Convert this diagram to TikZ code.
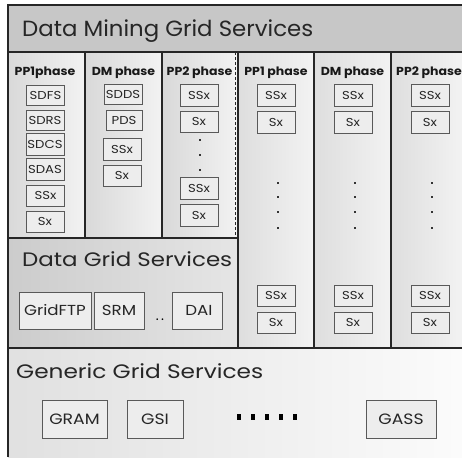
\documentclass[tikz,border=0pt]{standalone}
\usepackage{fontspec}
\usepackage{graphicx}
\setmainfont{Poppins}
\newfontfamily\widefont{Poppins}[FakeStretch=1.15]
\newfontfamily\phasefont{Poppins}[FakeStretch=1.08]
\begin{document}
\begin{tikzpicture}[x=1pt,y=-1pt,
  frameline/.style={draw=black!85,line width=1.3pt},
  svcbox/.style={draw=black!65,line width=0.8pt,fill=gray!14,inner sep=0pt,text=black!85,font=\widefont\fontsize{11.5}{12}\selectfont},
  sbox/.style={svcbox,minimum width=38pt,minimum height=21pt},
  bigbox/.style={svcbox,minimum height=37pt,font=\widefont\fontsize{14.5}{15}\selectfont},
  genbox/.style={svcbox,minimum height=38pt,font=\widefont\fontsize{15}{16}\selectfont},
  phaselbl/.style={font=\phasefont\bfseries\fontsize{11.6}{12}\selectfont,anchor=base,inner sep=0pt,text=black!90},
  bigtitle/.style={anchor=base west,inner sep=0pt,text=black!85},
  vdot/.style={fill=black!80,inner sep=0pt,minimum size=1.8pt,rectangle},
  sqdot/.style={fill=black,inner sep=0pt,minimum width=4pt,minimum height=6pt,rectangle}]
\useasboundingbox (0,0) rectangle (462,457);
\fill[white] (0,0) rectangle (462,457);
% backgrounds
\fill[gray!44] (8,5) rectangle (462,52);
\foreach \a/\b in {8/85,85/162,162/238}{
  \shade[left color=gray!30,right color=gray!10] (\a,52) rectangle (\b,238);}
\foreach \a/\b in {238/314,314/391,391/462}{
  \shade[left color=gray!26,right color=gray!10] (\a,52) rectangle (\b,348);}
\shade[left color=gray!40,right color=gray!20] (8,238) rectangle (238,348);
\shade[left color=gray!24,right color=gray!3] (8,348) rectangle (462,457);
% frame lines
\draw[frameline] (462,5) -- (8,5) -- (8,457);
\draw[frameline] (8,52) -- (462,52);
\draw[frameline] (8,238) -- (238,238);
\draw[frameline] (8,348) -- (462,348);
\draw[frameline] (85,52) -- (85,238);
\draw[frameline] (162,52) -- (162,238);
\draw[frameline] (238,52) -- (238,348);
\draw[black!85,line width=1pt,dash pattern=on 3pt off 2pt] (235.3,52) -- (235.3,238);
\draw[frameline] (314,52) -- (314,348);
\draw[frameline] (391,52) -- (391,348);
% titles
\node[bigtitle,font=\fontsize{22}{23}\selectfont] (t1) at (22,37) {\resizebox{291pt}{\height}{Data Mining Grid Services}};
\node[bigtitle,font=\fontsize{19.5}{20}\selectfont] (t2) at (22,266) {\resizebox{210pt}{\height}{Data Grid Services}};
\node[bigtitle,font=\fontsize{19.5}{20}\selectfont] (t3) at (16,378) {\resizebox{247pt}{\height}{Generic Grid Services}};
% phase labels
\node[phaselbl] (p1) at (45,76) {PP1phase};
\node[phaselbl] (p2) at (123.5,76) {DM phase};
\node[phaselbl] (p3) at (199.5,76) {PP2 phase};
\node[phaselbl] (p4) at (276,76) {PP1 phase};
\node[phaselbl] (p5) at (352.5,76) {DM phase};
\node[phaselbl] (p6) at (429,76) {PP2 phase};
% column 1
\node[sbox,minimum height=20pt] (c1a) at (45.5,95) {SDFS};
\node[sbox,minimum height=20pt] (c1b) at (45,120) {SDRS};
\node[sbox,minimum height=22pt] (c1c) at (45,144) {SDCS};
\node[sbox,minimum height=22pt] (c1d) at (45,169) {SDAS};
\node[sbox] (c1e) at (45.5,195.5) {SSx};
\node[sbox] (c1f) at (45,221.5) {Sx};
% column 2
\node[sbox,minimum height=20pt] (c2a) at (123,94) {SDDS};
\node[sbox,minimum width=36pt,minimum height=20pt] (c2b) at (124,120) {PDS};
\node[sbox,minimum height=22pt] (c2c) at (122,149) {SSx};
\node[sbox] (c2d) at (122,175.5) {Sx};
% column 3
\node[sbox,minimum height=22pt] (c3a) at (199,95) {SSx};
\node[sbox] (c3b) at (199,121.5) {Sx};
\foreach \y [count=\i] in {140,155,170}{\node[vdot] (c3d\i) at (200,\y) {};}
\node[sbox,minimum height=22pt] (c3c) at (199,188) {SSx};
\node[sbox,minimum height=22pt] (c3e) at (199,215) {Sx};
% columns 4-6
\foreach \x [count=\k] in {276,353,430}{
  \node[sbox,minimum height=22pt] (d\k a) at (\x,95) {SSx};
  \node[sbox,minimum height=22pt] (d\k b) at (\x,122) {Sx};
  \foreach \y [count=\i] in {183,197,212,228}{\node[vdot] (d\k dot\i) at (\x+2,\y) {};}
  \node[sbox] (d\k c) at (\x,295.5) {SSx};
  \node[sbox] (d\k d) at (\x,322.5) {Sx};
}
% data grid services
\node[bigbox,minimum width=72pt] (gftp) at (55,310.5) {GridFTP};
\node[bigbox,minimum width=50pt] (srm) at (119,310.5) {SRM};
\node[font=\fontsize{14}{15}\selectfont,inner sep=0pt,anchor=base] (ddots) at (160,320) {.\,.};
\node[bigbox,minimum width=50pt] (dai) at (197,310.5) {\hspace{4pt}DAI};
% generic grid services
\node[genbox,minimum width=65pt] (gram) at (74.5,419) {\raisebox{-3pt}{GRAM}};
\node[genbox,minimum width=56pt] (gsi) at (155,419) {\raisebox{-2pt}{GSI}};
\foreach \i in {0,...,4}{\node[sqdot] (gd\i) at (239+14*\i,417) {};}
\node[genbox,minimum width=70pt] (gass) at (401,419) {GASS};
\end{tikzpicture}
\end{document}
